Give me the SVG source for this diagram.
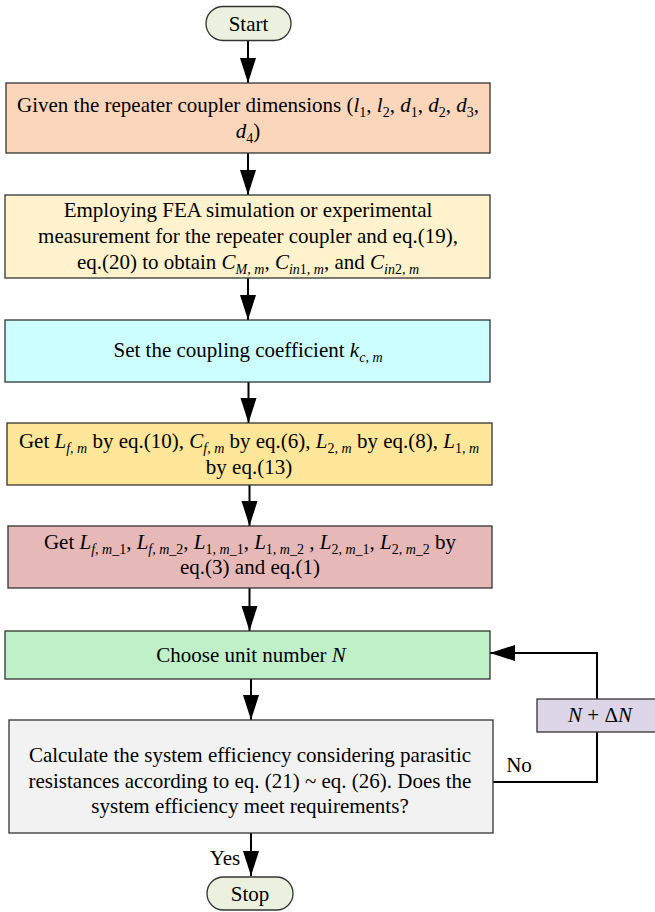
<svg xmlns="http://www.w3.org/2000/svg" width="655" height="912" viewBox="0 0 655 912">
<defs>
<marker id="ah" markerUnits="userSpaceOnUse" markerWidth="26" markerHeight="17" refX="25" refY="8" orient="auto">
<path d="M0,0 L25,8 L0,16 z" fill="#000"/>
</marker>
<style>
text{font-family:"Liberation Serif","Times New Roman",serif;font-size:21px;fill:#000;text-anchor:middle}
.box{stroke:#333;stroke-width:1.3}
.i{font-style:italic}
.s{font-size:14px;font-style:italic}
.sn{font-size:14px;font-style:normal}
.con{stroke:#000;stroke-width:2;fill:none}
</style>
</defs>
<rect width="655" height="912" fill="#fff"/>
<g id="connectors">
<line class="con" x1="248" y1="41" x2="248" y2="83" marker-end="url(#ah)"/>
<line class="con" x1="248" y1="153" x2="248" y2="195" marker-end="url(#ah)"/>
<line class="con" x1="248" y1="278" x2="248" y2="320" marker-end="url(#ah)"/>
<line class="con" x1="248.5" y1="382" x2="248.5" y2="423" marker-end="url(#ah)"/>
<line class="con" x1="249.5" y1="485" x2="249.5" y2="526" marker-end="url(#ah)"/>
<line class="con" x1="249.5" y1="588" x2="249.5" y2="631" marker-end="url(#ah)"/>
<line class="con" x1="251" y1="679" x2="251" y2="720" marker-end="url(#ah)"/>
<line class="con" x1="251" y1="833" x2="251" y2="876" marker-end="url(#ah)"/>
<polyline class="con" points="493,782 597,782 597,732"/>
<polyline class="con" points="597,699 597,653 490,653" marker-end="url(#ah)"/>
<text x="225" y="865">Yes</text>
<text x="519" y="772">No</text>
</g>
<g id="start">
<rect class="box" x="206" y="6.5" width="85" height="34" rx="17" fill="#ebf1de"/>
<text x="248.5" y="31">Start</text>
</g>
<g id="box1">
<rect class="box" x="6" y="83" width="484" height="70" fill="#fbd6bb"/>
<text x="248" y="112">Given the repeater coupler dimensions (<tspan class="i">l</tspan><tspan class="sn" dy="5">1</tspan><tspan dy="-5">, </tspan><tspan class="i">l</tspan><tspan class="sn" dy="5">2</tspan><tspan dy="-5">, </tspan><tspan class="i">d</tspan><tspan class="sn" dy="5">1</tspan><tspan dy="-5">, </tspan><tspan class="i">d</tspan><tspan class="sn" dy="5">2</tspan><tspan dy="-5">, </tspan><tspan class="i">d</tspan><tspan class="sn" dy="5">3</tspan><tspan dy="-5">,</tspan></text>
<text x="248" y="138"><tspan class="i">d</tspan><tspan class="sn" dy="5">4</tspan><tspan dy="-5">)</tspan></text>
</g>
<g id="box2">
<rect class="box" x="5" y="195" width="485" height="83" fill="#fff2cc"/>
<text x="248" y="217">Employing FEA simulation or experimental</text>
<text x="248" y="243">measurement for the repeater coupler and eq.(19),</text>
<text x="248" y="268.5">eq.(20) to obtain <tspan class="i">C</tspan><tspan class="s" dy="5">M, m</tspan><tspan dy="-5">, </tspan><tspan class="i">C</tspan><tspan class="s" dy="5">in</tspan><tspan class="sn">1</tspan><tspan class="s">, m</tspan><tspan dy="-5">, and </tspan><tspan class="i">C</tspan><tspan class="s" dy="5">in</tspan><tspan class="sn">2</tspan><tspan class="s">, m</tspan></text>
</g>
<g id="box3">
<rect class="box" x="5" y="320" width="485" height="62" fill="#ccffff"/>
<text x="248" y="357">Set the coupling coefficient <tspan class="i">k</tspan><tspan class="s" dy="5">c, m</tspan></text>
</g>
<g id="box4">
<rect class="box" x="7" y="423" width="485" height="62" fill="#ffe699"/>
<text x="249" y="448">Get <tspan class="i">L</tspan><tspan class="s" dy="5">f, m</tspan><tspan dy="-5"> by eq.(10), </tspan><tspan class="i">C</tspan><tspan class="s" dy="5">f, m</tspan><tspan dy="-5"> by eq.(6), </tspan><tspan class="i">L</tspan><tspan class="sn" dy="5">2</tspan><tspan class="s">, m</tspan><tspan dy="-5"> by eq.(8), </tspan><tspan class="i">L</tspan><tspan class="sn" dy="5">1</tspan><tspan class="s">, m</tspan></text>
<text x="249" y="474">by eq.(13)</text>
</g>
<g id="box5">
<rect class="box" x="8" y="526" width="484" height="62" fill="#e6b8b7"/>
<text x="250" y="548.5">Get <tspan class="i">L</tspan><tspan class="s" dy="5">f, m_</tspan><tspan class="sn">1</tspan><tspan dy="-5">, </tspan><tspan class="i">L</tspan><tspan class="s" dy="5">f, m_</tspan><tspan class="sn">2</tspan><tspan dy="-5">, </tspan><tspan class="i">L</tspan><tspan class="sn" dy="5">1</tspan><tspan class="s">, m_</tspan><tspan class="sn">1</tspan><tspan dy="-5">, </tspan><tspan class="i">L</tspan><tspan class="sn" dy="5">1</tspan><tspan class="s">, m_</tspan><tspan class="sn">2</tspan><tspan dy="-5"> , </tspan><tspan class="i">L</tspan><tspan class="sn" dy="5">2</tspan><tspan class="s">, m_</tspan><tspan class="sn">1</tspan><tspan dy="-5">, </tspan><tspan class="i">L</tspan><tspan class="sn" dy="5">2</tspan><tspan class="s">, m_</tspan><tspan class="sn">2</tspan><tspan dy="-5"> by</tspan></text>
<text x="250" y="574">eq.(3) and eq.(1)</text>
</g>
<g id="box6">
<rect class="box" x="5" y="631" width="485" height="48" fill="#bff0c8"/>
<text x="251" y="662">Choose unit number <tspan class="i">N</tspan></text>
</g>
<g id="box7">
<rect class="box" x="9" y="720" width="484" height="113" fill="#f2f2f2"/>
<text x="250" y="762">Calculate the system efficiency considering parasitic</text>
<text x="250" y="788">resistances according to eq. (21) ~ eq. (26). Does the</text>
<text x="250" y="813">system efficiency meet requirements?</text>
</g>
<g id="stop">
<rect class="box" x="207" y="877" width="86" height="33" rx="16.5" fill="#ebf1de"/>
<text x="250" y="901">Stop</text>
</g>
<g id="delta">
<rect class="box" x="537" y="699" width="125" height="33" fill="#dcd6e8"/>
<text x="600" y="722"><tspan class="i">N</tspan> + Δ<tspan class="i">N</tspan></text>
</g>
</svg>
